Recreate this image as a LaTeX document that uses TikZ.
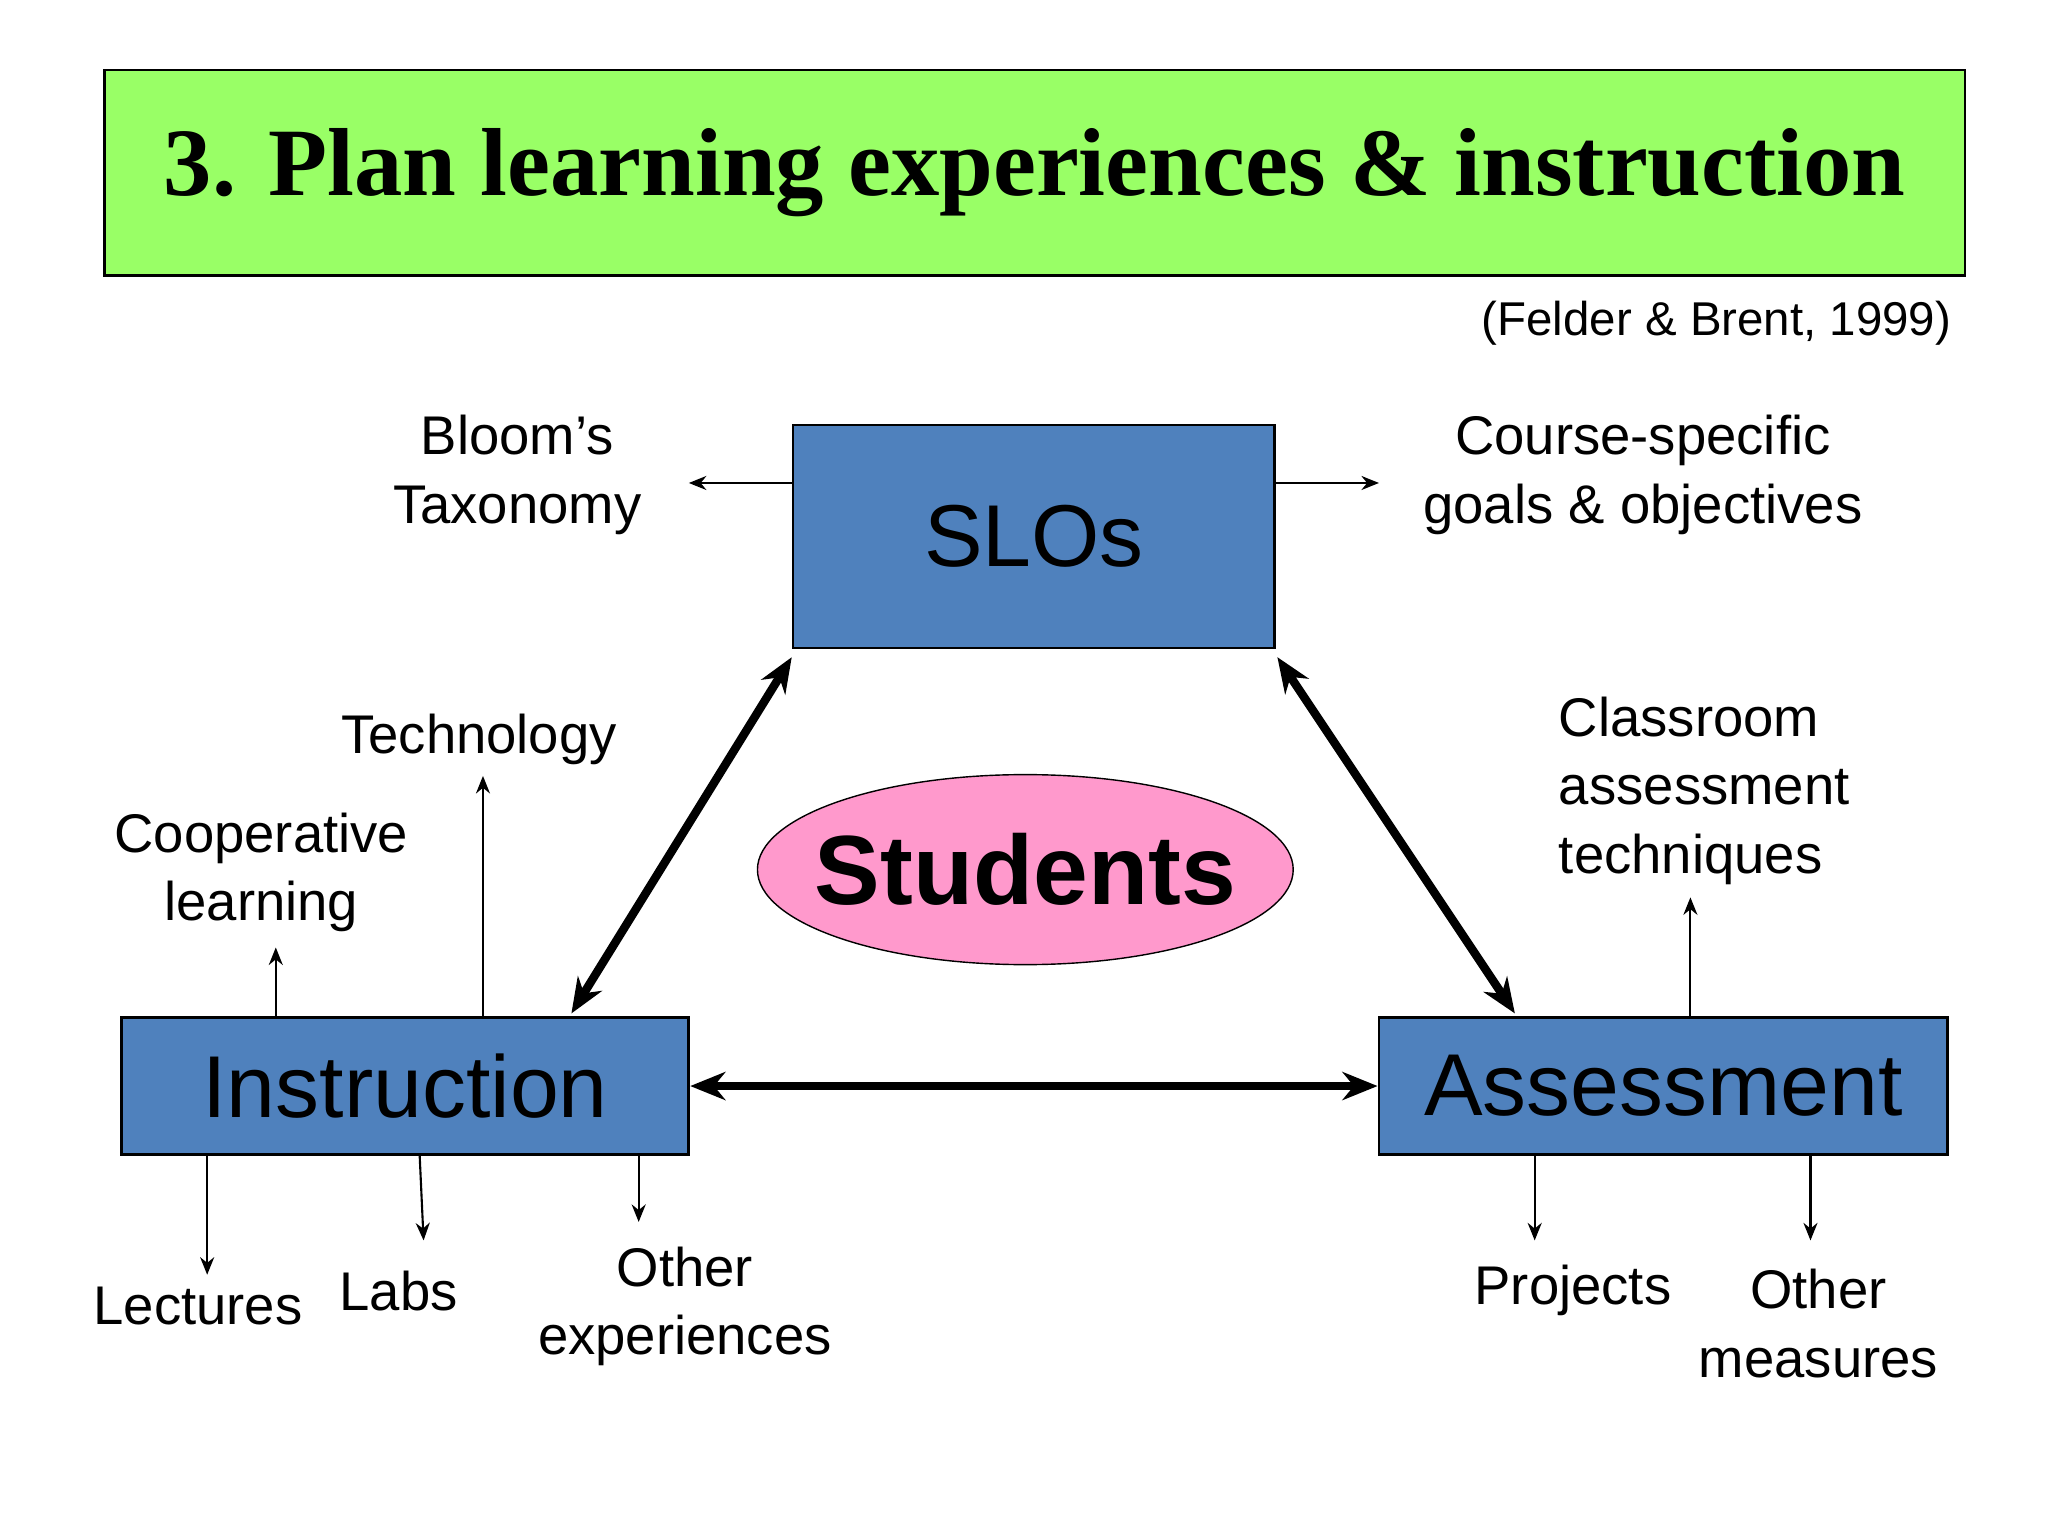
\documentclass[tikz,border=0pt]{standalone}
\usepackage{fontspec}
\setmainfont{Liberation Sans}
\newfontfamily\titlefont{Liberation Serif}
\usetikzlibrary{arrows.meta,shapes.geometric}
\definecolor{tgreen}{HTML}{99FF66}
\definecolor{tblue}{HTML}{4F81BD}
\definecolor{tpink}{HTML}{FF99CC}
\begin{document}
\begin{tikzpicture}[x=0.0132cm,y=-0.0132cm,
  bx/.style={draw=black,fill=tblue,line width=0.8pt},
  lbl/.style={font=\fontsize{15.5}{19.5}\selectfont,align=center},
  thin/.style={-{Stealth[length=5pt,width=4pt]},line width=0.6pt},
  thick/.style={{Stealth[length=10pt,width=8pt]}-{Stealth[length=10pt,width=8pt]},line width=2.4pt}]
\useasboundingbox (0,0) rectangle (1552,1164);
\fill[white] (0,0) rectangle (1552,1164);
\node[draw=black,fill=tgreen,line width=0.8pt,minimum width=1410*0.0132cm,minimum height=156*0.0132cm,anchor=north west,font=\titlefont\bfseries\fontsize{27.5}{32}\selectfont] (title) at (78,52) {3. Plan learning experiences \& instruction};
\node[anchor=east,font=\fontsize{13.5}{17}\selectfont] (cite) at (1488,245) {(Felder \& Brent, 1999)};
\node[bx,minimum width=365*0.0132cm,minimum height=169*0.0132cm,font=\fontsize{25}{30}\selectfont] (slo) at (783.5,406.5) {SLOs};
\node[bx,minimum width=430*0.0132cm,minimum height=104*0.0132cm,font=\fontsize{25}{30}\selectfont] (ins) at (307,823) {Instruction};
\node[bx,minimum width=431*0.0132cm,minimum height=104*0.0132cm,font=\fontsize{25}{30}\selectfont] (ass) at (1260.5,823) {Assessment};
\node[draw=black,fill=tpink,ellipse,minimum width=406*0.0132cm,minimum height=144*0.0132cm,inner sep=-30pt,font=\bfseries\fontsize{28}{34}\selectfont] (stu) at (777,659) {Students};
\node[lbl] (bloom) at (392,360) {Bloom’s\\Taxonomy};
\node[lbl] (course) at (1245,360) {Course-specific\\goals \& objectives};
\node[lbl] (tech) at (363,560) {Technology};
\node[lbl] (coop) at (198,661) {Cooperative\\learning};
\node[lbl,align=left,anchor=west] (cat) at (1172,599) {Classroom\\assessment\\techniques};
\node[lbl] (lec) at (150,990) {Lectures};
\node[lbl] (labs) at (302,978) {Labs};
\node[lbl] (oth) at (519,990) {Other\\experiences};
\node[lbl] (proj) at (1192,978) {Projects};
\node[lbl] (om) at (1378,1003) {Other\\measures};
\coordinate (b1) at (601,366); \coordinate (b2) at (522,366);
\coordinate (c1) at (966,366); \coordinate (c2) at (1045,366);
\draw[thin] (b1) -- (b2);
\draw[thin] (c1) -- (c2);
\draw[thick] (600,498) -- (433,768);
\draw[thick] (968,498) -- (1148,768);
\draw[thick] (ins.east) -- (ass.west);
\draw[thin] (366,771) -- (366,588);
\draw[thin] (209,771) -- (209,718);
\draw[thin] (1281,771) -- (1281,680);
\draw[thin] (157,875) -- (157,966);
\draw[thin] (318,875) -- (321,940);
\draw[thin] (484,875) -- (484,926);
\draw[thin] (1163,875) -- (1163,940);
\draw[thin] (1372,875) -- (1372,940);
\end{tikzpicture}
\end{document}
